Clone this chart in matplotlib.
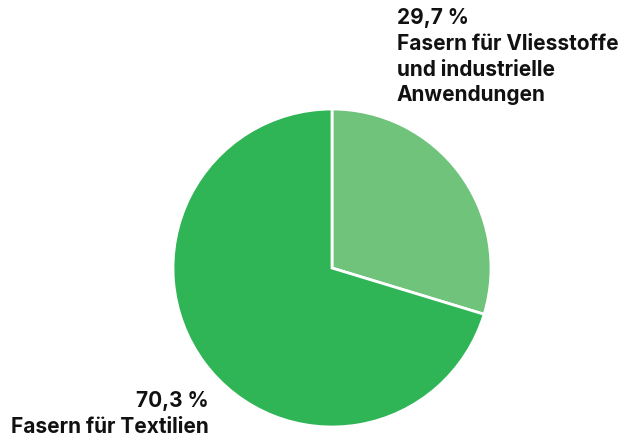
import matplotlib.pyplot as plt

# shares in percent
labels = ["Fasern für Vliesstoffe\nund industrielle\nAnwendungen", "Fasern für Textilien"]
values = [29.7, 70.3]
value_labels = ["29,7 %", "70,3 %"]
colors = ["#6fc37a", "#2fb555"]

W, H = 622, 441
fig = plt.figure(figsize=(W / 100, H / 100), dpi=100)

# pie centre (332, 268) px, radius 159 px
cx, cy, r = 332, 268, 159
ax = fig.add_axes([(cx - r) / W, (H - cy - r) / H, 2 * r / W, 2 * r / H])
ax.pie(values, colors=colors, startangle=90, counterclock=False,
       wedgeprops=dict(edgecolor="white", linewidth=2))
ax.set_xlim(-1, 1)
ax.set_ylim(-1, 1)
ax.set_aspect("equal")
ax.axis("off")

font = dict(family=["Inter", "DejaVu Sans"], weight="bold", fontsize=15, color="#111111")
fig.text(397 / W, 1 - 8 / H, value_labels[0] + "\n" + labels[0], ha="left", va="top",
         linespacing=1.36, **font)
fig.text(209 / W, 4 / H, value_labels[1] + "\n" + labels[1], ha="right", va="bottom",
         multialignment="right", linespacing=1.36, **font)

fig.savefig("out.png", dpi=100)
